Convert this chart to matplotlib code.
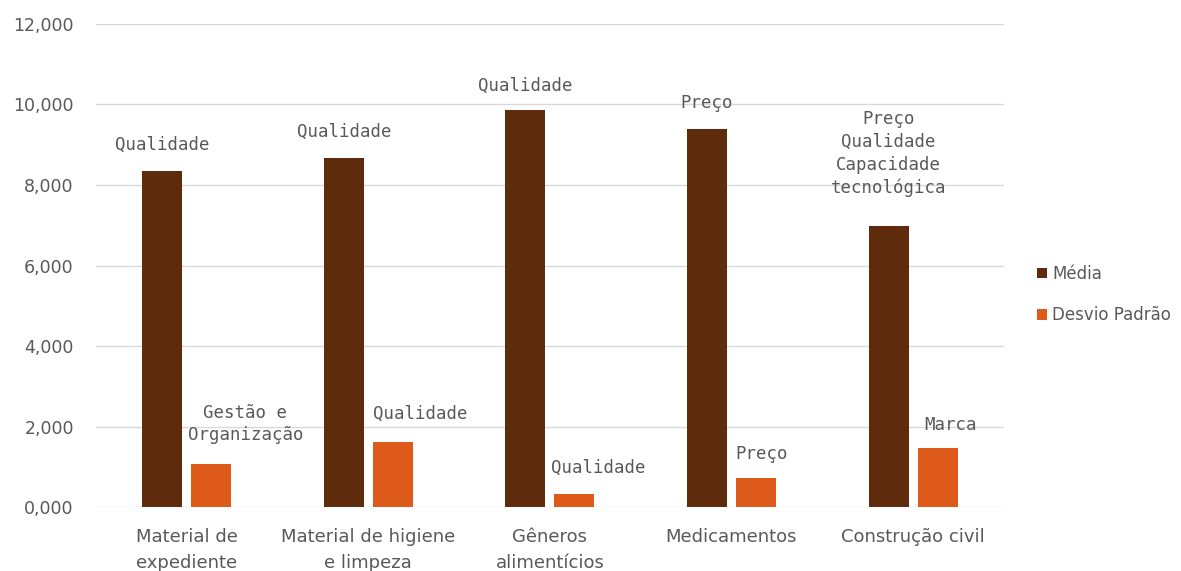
import numpy as np
import matplotlib.pyplot as plt

# Categorias e valores (média e desvio padrão)
categorias = ["Material de\nexpediente", "Material de higiene\ne limpeza",
              "Gêneros\nalimentícios", "Medicamentos", "Construção civil"]
media = [8.35, 8.68, 9.87, 9.40, 6.97]
desvio = [1.07, 1.61, 0.32, 0.72, 1.46]
rotulos_media = ["Qualidade", "Qualidade", "Qualidade", "Preço",
                 "Preço\nQualidade\nCapacidade\ntecnológica"]
rotulos_desvio = ["Gestão e\nOrganização", "Qualidade", "Qualidade", "Preço", "Marca"]

cor_media = "#5E2B0C"
cor_desvio = "#DD5A1B"
cinza = "#595959"

fig = plt.figure(figsize=(11.81, 5.71), dpi=100)
ax = fig.add_axes([0.0813, 0.112, 0.7687, 0.846])

x = np.arange(len(categorias))
larg = 0.22
desl = 0.135
b1 = ax.bar(x - desl, media, larg, color=cor_media, label="Média", zorder=3)
b2 = ax.bar(x + desl, desvio, larg, color=cor_desvio, label="Desvio Padrão", zorder=3)

# rótulos sobre as barras (deslocamentos em pixels)
off_media = [(0, 17), (0, 17), (0, 15), (0, 17), (0, 29)]
off_desvio = [(34, 20), (27, 19), (24, 17), (6, 15), (13, 14)]
for i in range(len(x)):
    ax.annotate(rotulos_media[i], (x[i] - desl, media[i]), xytext=off_media[i],
                textcoords="offset pixels", ha="center", va="bottom",
                fontsize=12.5, family="DejaVu Sans Mono", color=cinza,
                linespacing=1.35)
    ax.annotate(rotulos_desvio[i], (x[i] + desl, desvio[i]), xytext=off_desvio[i],
                textcoords="offset pixels", ha="center", va="bottom",
                fontsize=12.5, family="DejaVu Sans Mono", color=cinza,
                linespacing=1.25)

ax.set_xlim(-0.5, len(categorias) - 0.5)
ax.set_ylim(0, 12)
yt = np.arange(0, 13, 2)
ax.set_yticks(yt)
ax.set_yticklabels([f"{v:.3f}".replace(".", ",") for v in yt], fontsize=12.5, color=cinza)
ax.set_xticks(x)
ax.set_xticklabels(categorias, fontsize=13, color=cinza, linespacing=1.6)
ax.tick_params(axis="y", length=0, pad=16)
ax.tick_params(axis="x", length=0, pad=15)

ax.grid(axis="y", color="#D9D9D9", linewidth=1, zorder=0)
for s in ax.spines.values():
    s.set_visible(False)

ax.legend(loc="center left", bbox_to_anchor=(1.02, 0.44), frameon=False,
          fontsize=12, handlelength=0.6, handleheight=0.6, handletextpad=0.3,
          labelspacing=1.4, labelcolor=cinza)

fig.savefig("out.png", dpi=100, facecolor="white")
